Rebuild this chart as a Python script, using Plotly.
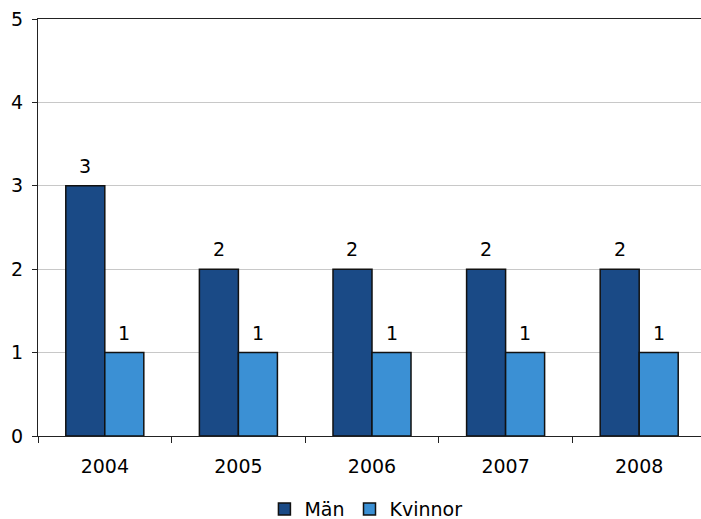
import plotly.graph_objects as go

years = ["2004", "2005", "2006", "2007", "2008"]
man = [3, 2, 2, 2, 2]
kvinnor = [1, 1, 1, 1, 1]
series_names = ["Män", "Kvinnor"]
y_ticks = [0, 1, 2, 3, 4, 5]

FONT = "DejaVu Sans"
FS = 19
C_MAN = "#1A4A86"
C_KV = "#3B90D4"

fig = go.Figure()
fig.add_trace(go.Bar(x=years, y=man, name=series_names[0], marker=dict(color=C_MAN, line=dict(color="#111111", width=1.5))))
fig.add_trace(go.Bar(x=years, y=kvinnor, name=series_names[1], marker=dict(color=C_KV, line=dict(color="#111111", width=1.5))))

bargap = 0.416
bw = (1 - bargap) / 2
annotations = []
for i, (m, k) in enumerate(zip(man, kvinnor)):
    for off, v in ((-bw / 2, m), (bw / 2, k)):
        annotations.append(dict(x=i + off, y=v, xref="x", yref="y", text=str(v), showarrow=False,
                                yanchor="bottom", yshift=7, font=dict(family=FONT, size=FS, color="#000")))

fig.update_layout(
    width=701, height=519,
    margin=dict(l=38, r=0, t=19, b=83, pad=0, autoexpand=False),
    paper_bgcolor="white", plot_bgcolor="white",
    barmode="group", bargap=bargap, bargroupgap=0,
    font=dict(family=FONT, size=FS, color="#000"),
    showlegend=True,
    legend=dict(orientation="h", xref="container", yref="container", x=0.522, xanchor="center",
                y=0.019, yanchor="middle", font=dict(family=FONT, size=FS), itemwidth=30,
                bgcolor="rgba(0,0,0,0)"),
    annotations=annotations,
    xaxis=dict(type="category", range=[-0.5, -0.5 + 663 / 133.6], showgrid=False, automargin=False,
               showline=True, linecolor="#222", linewidth=1.3, mirror=True,
               ticks="outside", tickson="boundaries", ticklen=6, tickcolor="#222",
               ticklabelstandoff=13,
               tickfont=dict(family=FONT, size=FS)),
    yaxis=dict(range=[0, 5], tickvals=y_ticks, showgrid=True, gridcolor="#C8C8C8", gridwidth=1,
               showline=True, linecolor="#222", linewidth=1.3, zeroline=False, automargin=False,
               ticks="outside", ticklen=5, tickcolor="#222", ticklabelstandoff=5,
               tickfont=dict(family=FONT, size=FS)),
)

fig.write_html("out.html", config={"displayModeBar": False},
               post_script="document.body.style.margin='0';document.body.style.overflow='hidden';")
